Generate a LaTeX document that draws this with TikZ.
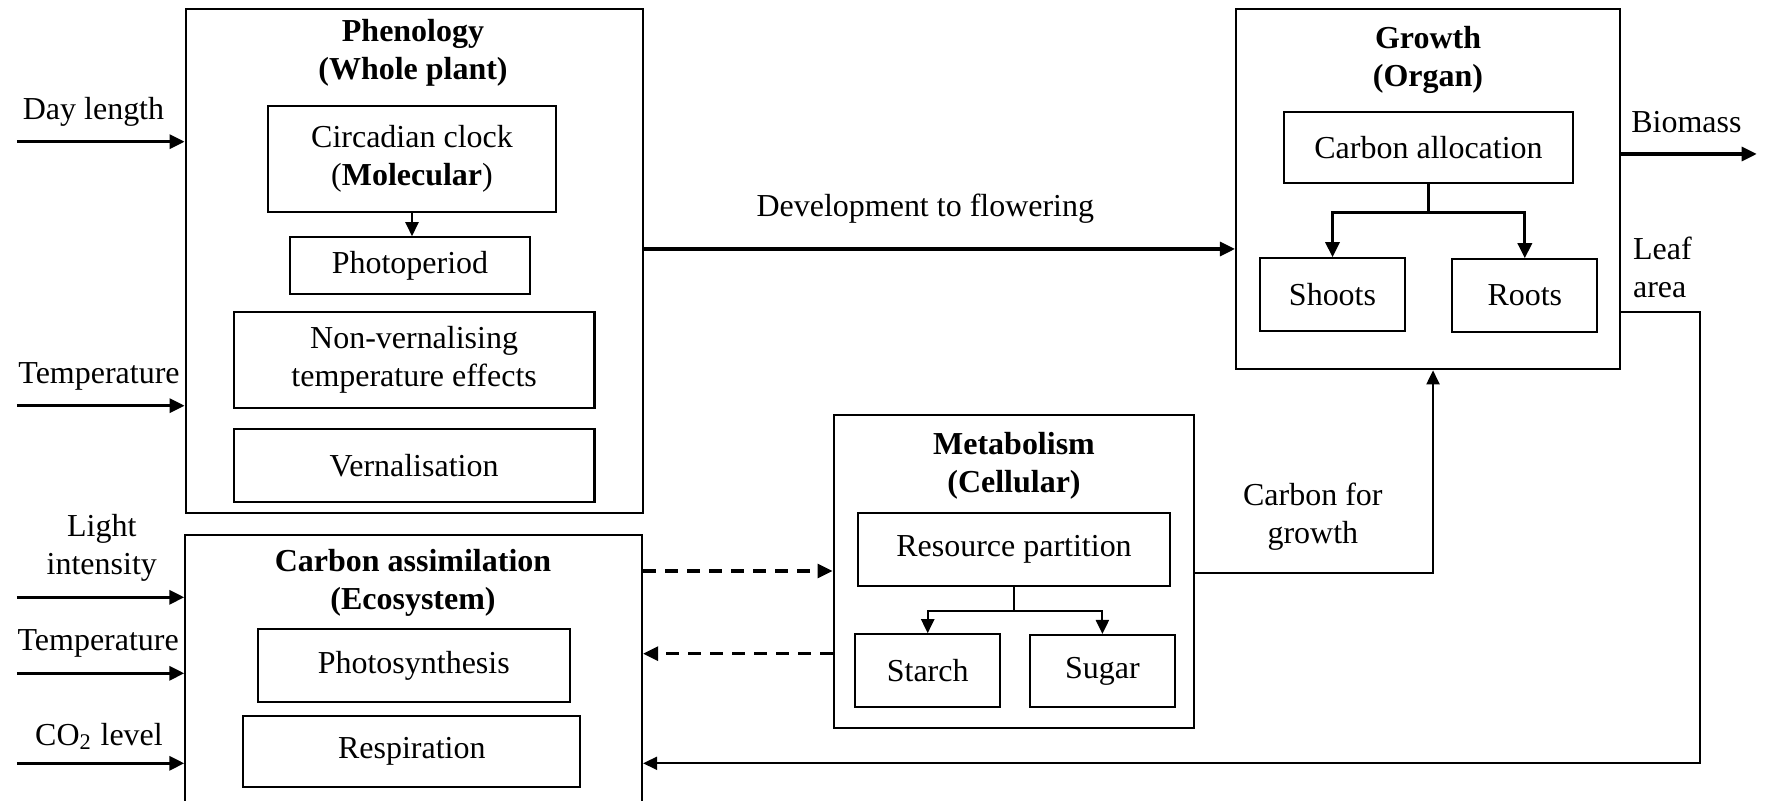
\documentclass[tikz,border=0pt]{standalone}
\usepackage{fontspec}
\setmainfont{Liberation Serif}
\usetikzlibrary{arrows.meta}

\begin{document}
\begin{tikzpicture}[
  font=\fontsize{9.1}{10.8}\selectfont,
  box/.style={draw, line width=0.6pt, inner sep=0pt, align=center},
  lbl/.style={inner sep=0pt, align=center},
  arr/.style={line width=0.9pt, -{Triangle[length=1.5mm,width=1.4mm]}},
  linkarr/.style={line width=0.6pt, -{Triangle[length=1.4mm,width=1.3mm]}},
  dasharr/.style={line width=0.9pt, dash pattern=on 1.3mm off 0.9mm, -{Triangle[length=1.5mm,width=1.4mm]}}
]

\useasboundingbox (0,0) rectangle (17.65,8);
\clip (0,0) rectangle (17.65,8);

\node[box, minimum width=4.573cm, minimum height=5.04cm] (phen) at (4.143,5.387) {};
\node[lbl] (phentitle) at (4.13,7.475) {\textbf{Phenology}\\\textbf{(Whole plant)}};
\node[box, minimum width=2.883cm, minimum height=1.06cm] (clock) at (4.12,6.413) {Circadian clock\\(\textbf{Molecular})};
\node[box, minimum width=2.405cm, minimum height=0.564cm] (photo) at (4.10,5.345) {Photoperiod};
\node[box, minimum width=3.608cm, minimum height=0.96cm] (nonvern) at (4.141,4.403) {Non-vernalising\\temperature effects};
\node[box, minimum width=3.608cm, minimum height=0.724cm] (vern) at (4.141,3.345) {Vernalisation};
\draw[linkarr] (clock.south) -- (clock.south |- photo.north);

\node[box, minimum width=4.567cm, minimum height=2.75cm] (carb) at (4.137,1.275) {};
\node[lbl] (carbtitle) at (4.13,2.175) {\textbf{Carbon assimilation}\\\textbf{(Ecosystem)}};
\node[box, minimum width=3.124cm, minimum height=0.724cm] (photosyn) at (4.138,1.345) {Photosynthesis};
\node[box, minimum width=3.37cm, minimum height=0.716cm] (resp) at (4.118,0.485) {Respiration};

\node[box, minimum width=3.607cm, minimum height=3.127cm] (metab) at (10.139,2.287) {};
\node[lbl] (metabtitle) at (10.14,3.341) {\textbf{Metabolism}\\\textbf{(Cellular)}};
\node[box, minimum width=3.126cm, minimum height=0.724cm] (respart) at (10.14,2.505) {Resource partition};
\node[box, minimum width=1.446cm, minimum height=0.724cm] (starch) at (9.277,1.295) {Starch};
\node[box, minimum width=1.45cm, minimum height=0.723cm] (sugar) at (11.024,1.288) {Sugar};
\draw[line width=0.6pt] (respart.south) -- ++(0,-0.24) coordinate (msplit);
\draw[linkarr] (msplit) -| (starch.north);
\draw[linkarr] (msplit) -| (sugar.north);

\node[box, minimum width=3.838cm, minimum height=3.6cm] (growth) at (14.279,6.107) {};
\node[lbl] (growthtitle) at (14.28,7.40) {\textbf{Growth}\\\textbf{(Organ)}};
\node[box, minimum width=2.889cm, minimum height=0.716cm] (calloc) at (14.285,6.525) {Carbon allocation};
\node[box, minimum width=1.445cm, minimum height=0.727cm] (shoots) at (13.325,5.054) {Shoots};
\node[box, minimum width=1.452cm, minimum height=0.724cm] (roots) at (15.248,5.045) {Roots};
\draw[line width=0.6pt] (calloc.south) -- ++(0,-0.284) coordinate (gsplit);
\draw[arr] (gsplit) -| (shoots.north);
\draw[arr] (gsplit) -| (roots.north);

\node[lbl] (daylen) at (0.935,6.883) {Day length};
\node[lbl] (temp1) at (0.99,4.233) {Temperature};
\node[lbl] (light) at (1.018,2.525) {Light\\intensity};
\node[lbl] (temp2) at (0.982,1.567) {Temperature};
\node[lbl] (co2) at (0.99,0.633) {CO\textsubscript{2} level};
\coordinate (in1) at (0.168,6.583);
\coordinate (in2) at (0.168,3.943);
\coordinate (in3) at (0.168,2.027);
\coordinate (in4) at (0.168,1.267);
\coordinate (in5) at (0.168,0.367);
\draw[arr] (in1) -- (in1 -| phen.west);
\draw[arr] (in2) -- (in2 -| phen.west);
\draw[arr] (in3) -- (in3 -| carb.west);
\draw[arr] (in4) -- (in4 -| carb.west);
\draw[arr] (in5) -- (in5 -| carb.west);

\coordinate (devy) at (0,5.51);
\draw[arr] (devy -| phen.east) -- (devy -| growth.west);
\node[lbl] (devlbl) at (9.253,5.917) {Development to flowering};

\coordinate (dash1) at (0,2.29);
\coordinate (dash2) at (0,1.463);
\draw[dasharr] (dash1 -| carb.east) -- (dash1 -| metab.west);
\draw[dasharr] (dash2 -| metab.west) -- (dash2 -| carb.east);

\coordinate (cfg) at (14.33,2.267);
\draw[linkarr] (cfg -| metab.east) -- (cfg) -- (cfg |- growth.south);
\node[lbl] (cfglbl) at (13.128,2.833) {Carbon for\\growth};

\coordinate (bio) at (17.567,6.46);
\draw[arr] (bio -| growth.east) -- (bio);
\node[lbl] (biolbl) at (16.864,6.783) {Biomass};

\coordinate (leafturn) at (17.001,4.883);
\coordinate (leafdown) at (17.001,0.367);
\draw[linkarr] (leafturn -| growth.east) -- (leafturn) -- (leafdown) -- (leafdown -| carb.east);
\node[lbl, align=left, anchor=west] (leaflbl) at (16.324,5.325) {Leaf\\area};

\end{tikzpicture}
\end{document}
